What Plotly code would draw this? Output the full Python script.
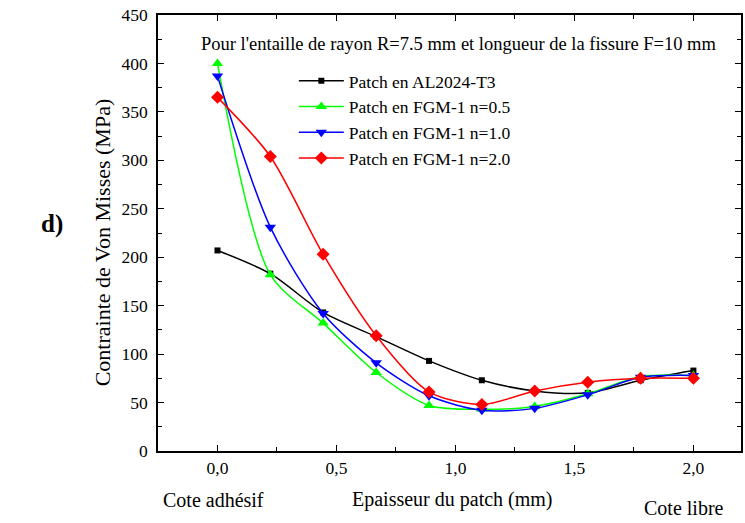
import plotly.graph_objects as go

# Patch thickness positions (mm)
thickness = [0.0, 0.222, 0.444, 0.667, 0.889, 1.111, 1.333, 1.556, 1.778, 2.0]

# Von Mises stress (MPa) for each patch type
al2024 = [207, 183, 143, 118, 93, 73, 62, 60, 73, 83]
fgm_05 = [400, 182, 132, 81, 47, 43, 46, 59, 77, 78]
fgm_10 = [387, 231, 142, 91, 57, 42, 44, 58, 76, 78]
fgm_20 = [365, 304, 203, 119, 61, 48, 62, 71, 75, 75]

series_names = [
    "Patch en AL2024-T3",
    "Patch en FGM-1 n=0.5",
    "Patch en FGM-1 n=1.0",
    "Patch en FGM-1 n=2.0",
]

x_ticks = [0.0, 0.5, 1.0, 1.5, 2.0]
y_ticks = [0, 50, 100, 150, 200, 250, 300, 350, 400, 450]

FONT = "Liberation Serif, Times New Roman, serif"

styles = [
    (al2024, "black", "square", 6),
    (fgm_05, "#00ff00", "triangle-up", 10),
    (fgm_10, "#0000ff", "triangle-down", 10),
    (fgm_20, "#ff0000", "diamond", 10),
]

fig = go.Figure()
for name, (vals, color, symbol, size) in zip(series_names, styles):
    fig.add_trace(go.Scatter(
        x=thickness, y=vals, name=name,
        mode="lines+markers",
        line=dict(color=color, width=1.5, shape="spline", smoothing=0.8),
        marker=dict(color=color, symbol=symbol, size=size),
    ))

axis_common = dict(
    showline=True, linecolor="black", linewidth=1.5, mirror="ticks",
    ticks="inside", ticklen=6, tickwidth=1.2, tickcolor="black",
    showgrid=False, zeroline=False,
    tickfont=dict(family=FONT, size=17.5, color="black"),
)

fig.update_xaxes(
    range=[-0.25, 2.2], tickvals=x_ticks, tickformat=".1f",
    minor=dict(dtick=0.25, ticks="inside", ticklen=4, tickcolor="black", tick0=0),
    **axis_common,
)
fig.update_yaxes(
    range=[0, 450], tickvals=y_ticks, ticklabelstandoff=5,
    minor=dict(dtick=25, ticks="inside", ticklen=4, tickcolor="black", tick0=0),
    **axis_common,
)

fig.update_layout(
    width=745, height=523,
    margin=dict(l=158, r=2, t=15, b=72),
    plot_bgcolor="white", paper_bgcolor="white",
    separators=", ",
    font=dict(family=FONT, color="black"),
    legend=dict(
        x=0.233, y=0.89, xanchor="left", yanchor="top",
        bgcolor="rgba(0,0,0,0)", borderwidth=0,
        font=dict(family=FONT, size=17.5, color="black"),
        tracegroupgap=0, itemwidth=45,
    ),
    annotations=[
        dict(text="Pour l'entaille de rayon R=7.5 mm et longueur de la fissure F=10 mm",
             xref="paper", yref="paper", x=0.515, y=0.933, showarrow=False,
             xanchor="center", yanchor="middle",
             font=dict(family=FONT, size=18.5, color="black")),
        dict(text="Contrainte de Von Misses (MPa)", textangle=-90,
             xref="paper", yref="paper", x=-0.0957, y=0.479, showarrow=False,
             xanchor="center", yanchor="middle",
             font=dict(family=FONT, size=22, color="black")),
        dict(text="<b>d)</b>", xref="paper", yref="paper", x=-0.181, y=0.52,
             xanchor="center", yanchor="middle", showarrow=False,
             font=dict(family=FONT, size=25, color="black")),
        dict(text="Cote adhésif", xref="paper", yref="paper", x=0.0957, y=-0.112,
             xanchor="center", yanchor="middle", showarrow=False,
             font=dict(family=FONT, size=20, color="black")),
        dict(text="Epaisseur du patch (mm)", xref="paper", yref="paper", x=0.506, y=-0.112,
             xanchor="center", yanchor="middle", showarrow=False,
             font=dict(family=FONT, size=20, color="black")),
        dict(text="Cote libre", xref="paper", yref="paper", x=0.903, y=-0.131,
             xanchor="center", yanchor="middle", showarrow=False,
             font=dict(family=FONT, size=20, color="black")),
    ],
)

fig.write_html("out.html")
